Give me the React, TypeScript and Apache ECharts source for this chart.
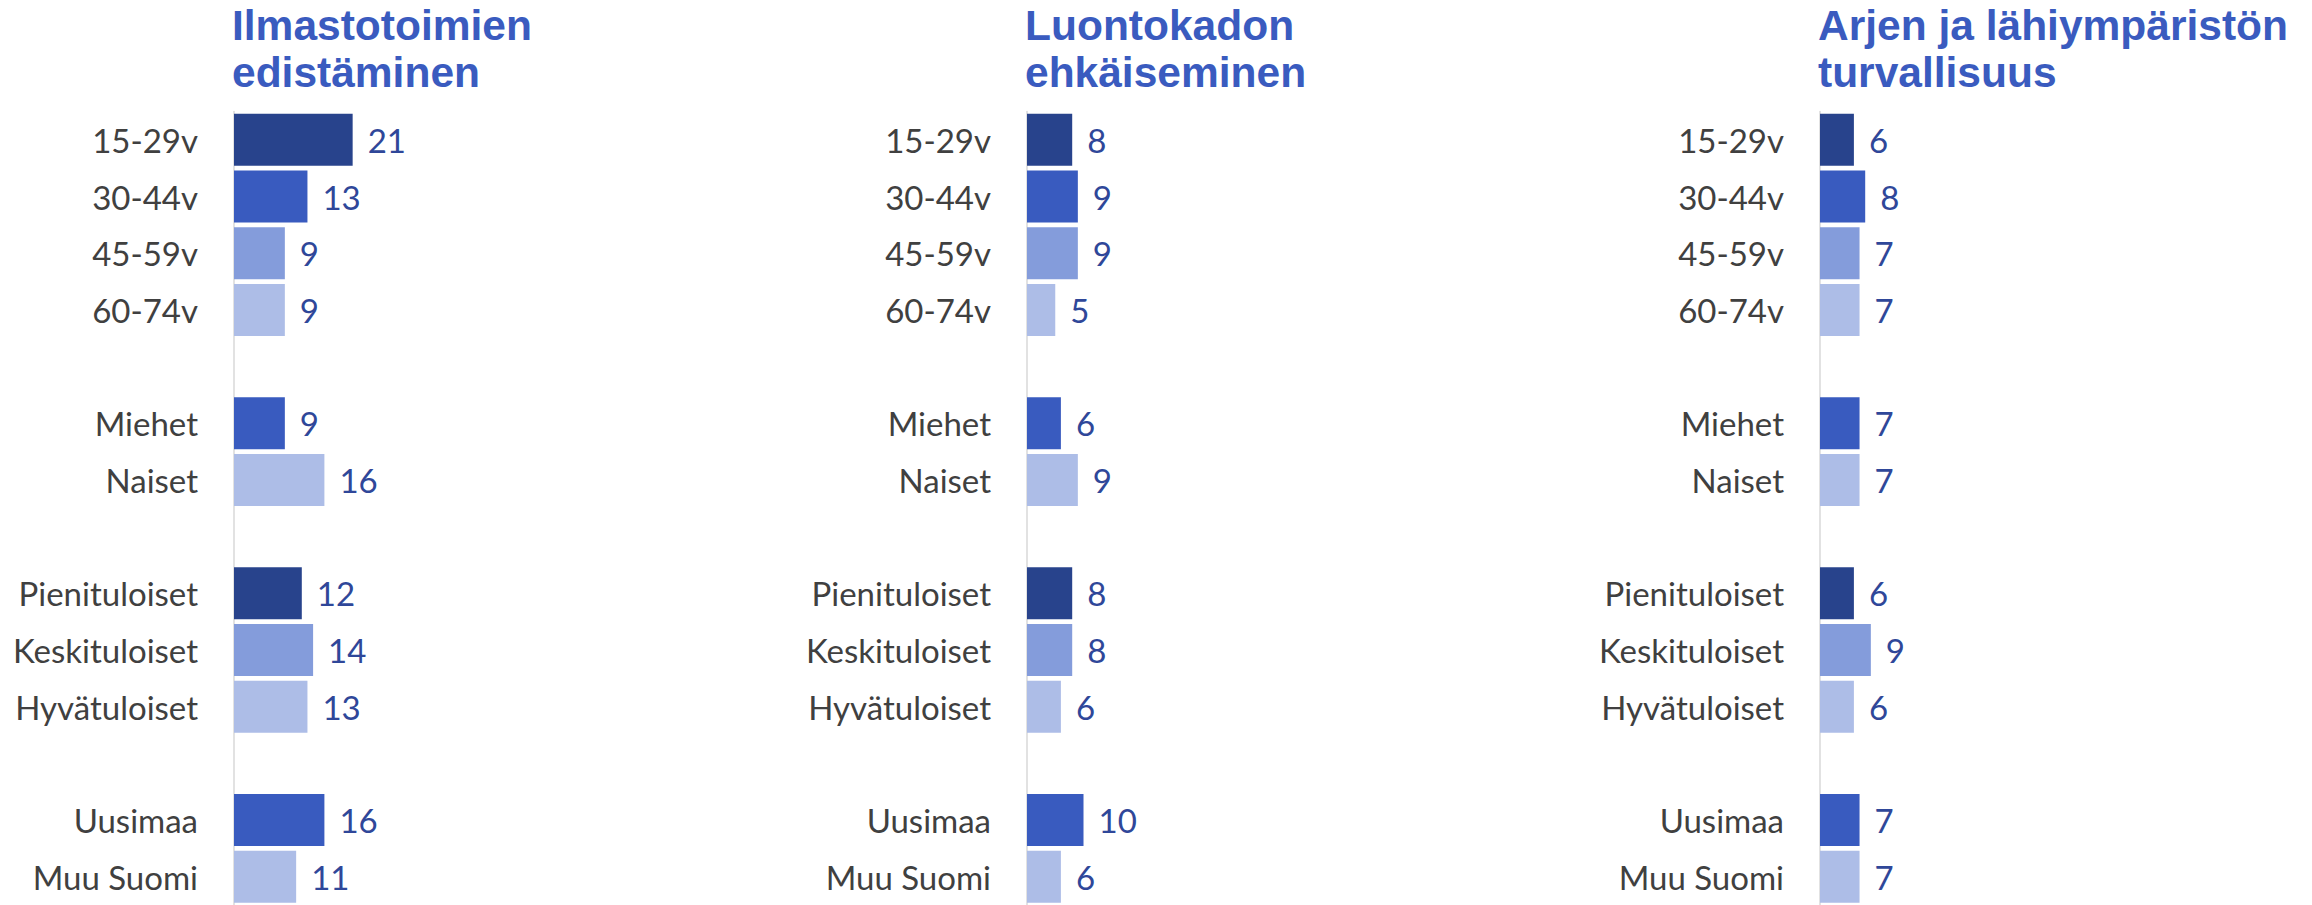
import React, { useEffect, useRef } from "react";
import * as echarts from "echarts";

// ---- data ----
const categories = [
  "15-29v",
  "30-44v",
  "45-59v",
  "60-74v",
  " ",
  "Miehet",
  "Naiset",
  "  ",
  "Pienituloiset",
  "Keskituloiset",
  "Hyvätuloiset",
  "   ",
  "Uusimaa",
  "Muu Suomi",
];

const panelTitles = [
  "Ilmastotoimien\nedistäminen",
  "Luontokadon\nehkäiseminen",
  "Arjen ja lähiympäristön\nturvallisuus",
];

const ilmastoValues = [21, 13, 9, 9, null, 9, 16, null, 12, 14, 13, null, 16, 11];
const luontoValues = [8, 9, 9, 5, null, 6, 9, null, 8, 8, 6, null, 10, 6];
const turvaValues = [6, 8, 7, 7, null, 7, 7, null, 6, 9, 6, null, 7, 7];

const panelValues = [ilmastoValues, luontoValues, turvaValues];

// ---- styles ----
const SHADES: Record<string, string> = {
  dark: "#28438C",
  medium: "#395BBF",
  midlight: "#849CDB",
  light: "#ADBDE7",
};
const categoryShade = [
  "dark",
  "medium",
  "midlight",
  "light",
  "light",
  "medium",
  "light",
  "light",
  "dark",
  "midlight",
  "light",
  "light",
  "medium",
  "light",
];

const AXIS_X = [233, 1026, 1819];
const PX_PER_UNIT = 5.65;
const X_MAX = 40;
const GRID_TOP = 111.5;
const ROW_PITCH = 57;
const LABEL_FONT = "Lato, 'Noto Sans', sans-serif";
const TITLE_FONT = "'Liberation Sans', Arial, sans-serif";

export default function App() {
  const ref = useRef<HTMLDivElement>(null);

  useEffect(() => {
    if (!ref.current) return;
    const chart = echarts.init(ref.current, undefined, { renderer: "svg" });

    const grids = AXIS_X.map((x) => ({
      left: x + 1,
      top: GRID_TOP,
      width: X_MAX * PX_PER_UNIT,
      height: ROW_PITCH * categories.length,
      containLabel: false,
    }));

    const xAxes = AXIS_X.map((_, i) => ({
      type: "value" as const,
      gridIndex: i,
      min: 0,
      max: X_MAX,
      show: false,
    }));

    const yAxes = AXIS_X.map((_, i) => ({
      type: "category" as const,
      gridIndex: i,
      data: categories,
      inverse: true,
      offset: 1,
      axisLine: { show: true, lineStyle: { color: "#D9D9D9", width: 1.5 } },
      axisTick: { show: false },
      axisLabel: {
        margin: 35,
        color: "#404040",
        fontSize: 33,
        fontFamily: LABEL_FONT,
      },
      splitLine: { show: false },
    }));

    const series = panelValues.map((vals, i) => ({
      type: "bar" as const,
      xAxisIndex: i,
      yAxisIndex: i,
      barWidth: 52,
      data: vals.map((v, j) => ({
        value: v,
        itemStyle: { color: SHADES[categoryShade[j]] },
      })),
      label: {
        show: true,
        position: "right" as const,
        distance: 15,
        color: "#2F4799",
        fontSize: 33,
        fontFamily: LABEL_FONT,
        formatter: "{c}",
      },
    }));

    const titles = panelTitles.map((t, i) => ({
      text: t,
      left: AXIS_X[i] - 1,
      top: 2,
      padding: 0,
      textStyle: {
        color: "#3A5BBF",
        fontSize: 42.5,
        fontWeight: "bold" as const,
        fontFamily: TITLE_FONT,
        lineHeight: 47,
      },
    }));

    chart.setOption({
      animation: false,
      backgroundColor: "#FFFFFF",
      title: titles,
      grid: grids,
      xAxis: xAxes,
      yAxis: yAxes,
      series,
    });

    return () => chart.dispose();
  }, []);

  return (
    <div
      ref={ref}
      style={{ position: "absolute", left: 0, top: 0, width: 2312, height: 905 }}
    />
  );
}
